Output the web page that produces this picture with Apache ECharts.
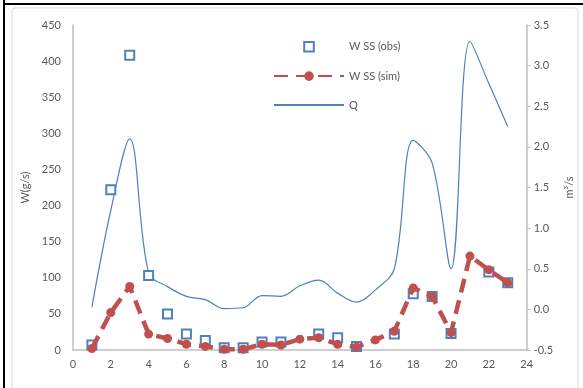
<!DOCTYPE html>
<html>
<head>
<meta charset="utf-8">
<script src="https://cdn.jsdelivr.net/npm/echarts@6/dist/echarts.min.js"></script>
<style>
html,body{margin:0;padding:0;background:#fff;}
#c{width:583px;height:388px;}
</style>
</head>
<body>
<div id="c"></div>
<script>
// Data
var xs = [1,2,3,4,5,6,7,8,9,10,11,12,13,14,15,16,17,18,19,20,21,22,23];
var wssObs = [7,222,408,103,50,22,13,3,3,11,11,null,22,17,5,null,22,78,74,23,null,108,93];
var wssSim = [2,52,88,22,16,8,5,1,1,8,7,15,17,8,4,14,26,86,74,24,130,111,93];
var qFlow = [0.03,1.22,2.1,0.45,0.28,0.16,0.12,0.01,0.02,0.17,0.16,0.29,0.36,0.2,0.09,0.24,0.5,2.08,1.8,0.5,3.3,2.78,2.25];
var seriesNames = ['W SS (obs)','W SS (sim)','Q'];
var leftAxisName = 'W(g/s)';
var rightAxisName = 'm³/s';

function pairs(arr){ return xs.map(function(x,i){ return [x, arr[i]]; }); }

var FONT = 'Lato';
var txt = '#595959';
var axisCol = '#BFBFBF';

var chart = echarts.init(document.getElementById('c'), null, {renderer:'canvas'});
chart.setOption({
  animation:false,
  backgroundColor:'#ffffff',
  textStyle:{fontFamily:FONT},
  graphic:[
    {type:'rect', shape:{x:12,y:8,width:566,height:400,r:3}, style:{fill:'none',stroke:'#D9D9D9',lineWidth:1}, z:-1},
    {type:'line', shape:{x1:4,y1:0,x2:4,y2:388}, style:{stroke:'#000',lineWidth:2}},
    {type:'line', shape:{x1:4,y1:4,x2:583,y2:4}, style:{stroke:'#000',lineWidth:2}}
  ],
  grid:{left:73,right:47,top:25,bottom:38},
  legend:{
    data:[
      {name:seriesNames[0]},
      {name:seriesNames[1]},
      {name:seriesNames[2], itemStyle:{color:'rgba(0,0,0,0)',borderWidth:0,opacity:0}}
    ],
    orient:'vertical',
    left:268, top:36,
    itemWidth:70, itemHeight:12, itemGap:18,
    textStyle:{color:txt,fontSize:11,fontFamily:FONT}
  },
  xAxis:{
    type:'value', min:0, max:24, interval:2,
    axisLine:{show:true,lineStyle:{color:axisCol,width:1.5}},
    axisTick:{show:false},
    splitLine:{show:false},
    axisLabel:{color:txt,fontSize:11,margin:9}
  },
  yAxis:[
    {
      type:'value', min:0, max:450, interval:50, position:'left',
      name:leftAxisName, nameLocation:'middle', nameGap:31, nameRotate:90,
      nameTextStyle:{color:txt,fontSize:11},
      axisLine:{show:true,lineStyle:{color:axisCol,width:1.5}},
      axisTick:{show:false},
      splitLine:{show:false},
      axisLabel:{color:txt,fontSize:11,margin:12}
    },
    {
      type:'value', min:-0.5, max:3.5, interval:0.5, position:'right',
      name:rightAxisName, nameLocation:'middle', nameGap:28, nameRotate:90,
      nameTextStyle:{color:txt,fontSize:11},
      axisLine:{show:true,lineStyle:{color:axisCol,width:1.5}},
      axisTick:{show:true,inside:false,length:4,lineStyle:{color:axisCol}},
      splitLine:{show:false},
      axisLabel:{color:txt,fontSize:11,margin:7,formatter:function(v){return v.toFixed(1);}}
    }
  ],
  series:[
    {
      name:'Q', type:'line', yAxisIndex:1, data:pairs(qFlow),
      smooth:0.35, showSymbol:false, symbol:'none',
      lineStyle:{color:'#4F81BD',width:1.2},
      itemStyle:{color:'#4F81BD'}, z:2
    },
    {
      name:'W SS (obs)', type:'line', yAxisIndex:0, data:pairs(wssObs),
      symbol:'rect', symbolSize:9, showSymbol:true, connectNulls:false,
      lineStyle:{width:0,opacity:0,color:'#4F81BD'},
      itemStyle:{color:'#ffffff',borderColor:'#4F81BD',borderWidth:2}, z:3
    },
    {
      name:'W SS (sim)', type:'line', yAxisIndex:0, data:pairs(wssSim),
      symbol:'circle', symbolSize:9, showSymbol:true,
      lineStyle:{color:'#C0504D',width:4.5,type:[14,8]},
      itemStyle:{color:'#C0504D'}, z:4
    }
  ]
});
</script>
</body>
</html>
